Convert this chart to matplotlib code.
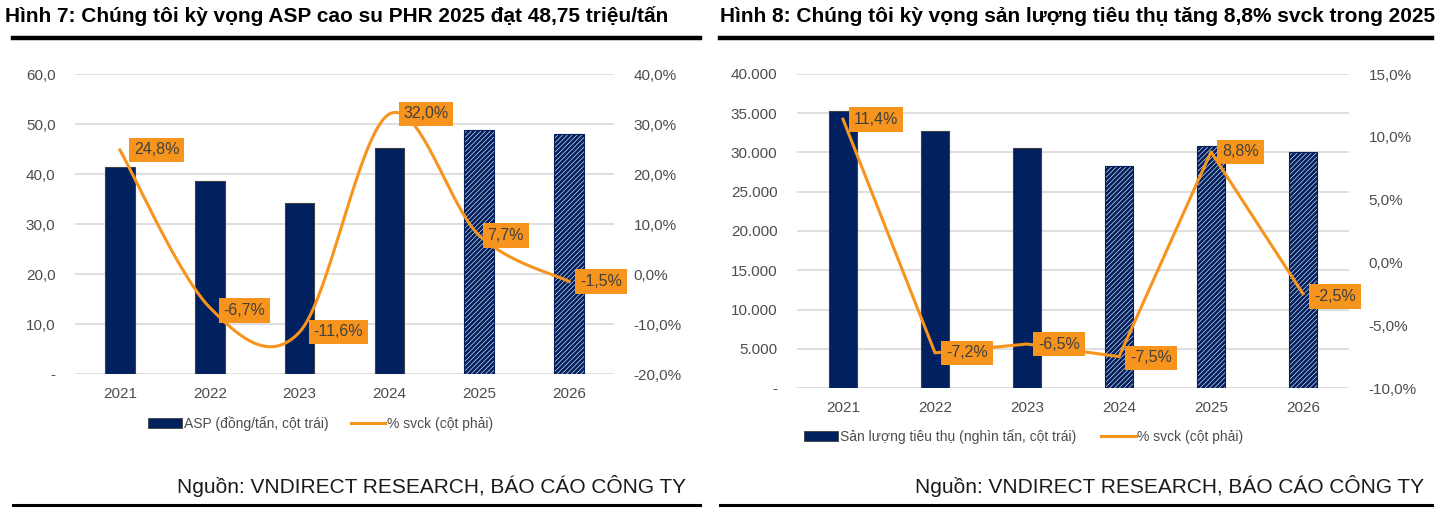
import numpy as np
import matplotlib
matplotlib.use('Agg')
import matplotlib.pyplot as plt
from matplotlib.lines import Line2D
from matplotlib.patches import Patch

plt.rcParams['font.family'] = ['Liberation Sans', 'DejaVu Sans']
plt.rcParams['hatch.linewidth'] = 2.0

# chart 7 data
years = ['2021', '2022', '2023', '2024', '2025', '2026']
asp = [41.4, 38.7, 34.3, 45.2, 48.75, 48.0]
asp_yoy = [24.8, -6.7, -11.6, 32.0, 7.7, -1.5]
asp_forecast = [False, False, False, False, True, True]

# chart 8 data
volume = [35300, 32760, 30630, 28330, 30820, 30050]
vol_yoy = [11.4, -7.2, -6.5, -7.5, 8.8, -2.5]
vol_forecast = [False, False, False, True, True, True]

NAVY = '#002060'
ORANGE = '#F7941D'
GRID = '#D9D9D9'
TICK = '#4d4d4d'

W, H = 1443, 513


def smooth(xs, ys, n=40):
    # excel-like smoothed line (catmull-rom through the points)
    xs = np.asarray(xs, float)
    ys = np.asarray(ys, float)
    px = np.concatenate([[xs[0]], xs, [xs[-1]]])
    py = np.concatenate([[ys[0]], ys, [ys[-1]]])
    ox, oy = [], []
    t = np.linspace(0, 1, n)
    h00 = 2 * t**3 - 3 * t**2 + 1
    h10 = t**3 - 2 * t**2 + t
    h01 = -2 * t**3 + 3 * t**2
    h11 = t**3 - t**2
    for i in range(1, len(px) - 2):
        mx0 = (px[i + 1] - px[i - 1]) / 2
        mx1 = (px[i + 2] - px[i]) / 2
        my0 = (py[i + 1] - py[i - 1]) / 2
        my1 = (py[i + 2] - py[i]) / 2
        ox.extend(h00 * px[i] + h10 * mx0 + h01 * px[i + 1] + h11 * mx1)
        oy.extend(h00 * py[i] + h10 * my0 + h01 * py[i + 1] + h11 * my1)
    return ox, oy


def pct(v):
    return f'{v:.1f}%'.replace('.', ',')


def draw(ax, vals, yoy, fc, ylim, ystep, yfmt, y2lim, y2step, barw, smoothed, label_off):
    x = np.arange(len(years))
    for xi, v, f in zip(x, vals, fc):
        if f:
            ax.bar(xi, v, width=barw, color='white', edgecolor=NAVY, hatch='///////', linewidth=0.8, zorder=2)
        else:
            ax.bar(xi, v, width=barw, color=NAVY, edgecolor='#404040', linewidth=0.8, zorder=2)
    ax.set_xlim(-0.5, len(years) - 0.5)
    ax.set_ylim(*ylim)
    yt = np.arange(ylim[0], ylim[1] + ystep / 2, ystep)
    ax.set_yticks(yt)
    ax.set_yticklabels([yfmt(v) for v in yt])
    ax.set_xticks(x)
    ax.set_xticklabels(years)
    ax.yaxis.grid(True, color=GRID, linewidth=1.2, zorder=0)
    ax.set_axisbelow(True)
    for s in ax.spines.values():
        s.set_visible(False)
    ax.tick_params(length=0, labelsize=11, colors=TICK, pad=14)
    ax.tick_params(axis='x', pad=9)

    ax2 = ax.twinx()
    ax2.set_ylim(*y2lim)
    yt2 = np.arange(y2lim[0], y2lim[1] + y2step / 2, y2step)
    ax2.set_yticks(yt2)
    ax2.set_yticklabels([pct(v) for v in yt2])
    for s in ax2.spines.values():
        s.set_visible(False)
    ax2.tick_params(length=0, labelsize=11, colors=TICK, pad=14)
    if smoothed:
        lx, ly = smooth(x, yoy)
    else:
        lx, ly = x, yoy
    ax2.plot(lx, ly, color=ORANGE, linewidth=2.2, zorder=3)
    for xi, v, off in zip(x, yoy, label_off):
        ax2.annotate(pct(v), (xi, v), xytext=off, textcoords='offset points',
                     ha='left', va='center', fontsize=11.5, color='#404040',
                     bbox=dict(boxstyle='square,pad=0.3', fc=ORANGE, ec='none'), zorder=4)
    return ax2


fig = plt.figure(figsize=(W / 100, H / 100), dpi=100)

# left chart
ax1 = fig.add_axes([75 / W, 1 - 374 / H, 539 / W, 300 / H])
draw(ax1, asp, asp_yoy, asp_forecast, (0, 60), 10,
     lambda v: '-' if v == 0 else f'{v:.1f}'.replace('.', ','),
     (-20, 40), 10, 0.33, True,
     [(10, 0), (10, -2), (10, 0), (10, 0), (6, 0), (8, 0)])
h1 = [Patch(facecolor=NAVY, edgecolor='#404040', linewidth=0.6),
      Line2D([], [], color=ORANGE, linewidth=2.2)]
ax1.legend(h1, ['ASP (đồng/tấn, cột trái)', '% svck (cột phải)'],
           loc='center left', bbox_to_anchor=(0.135, -0.165), ncol=2, frameon=False,
           fontsize=10, handlelength=2.5, handletextpad=0.1, columnspacing=1.6,
           labelcolor=TICK, borderaxespad=0, borderpad=0)

# right chart
ax3 = fig.add_axes([797 / W, 1 - 388 / H, 552 / W, 314 / H])
draw(ax3, volume, vol_yoy, vol_forecast, (0, 40000), 5000,
     lambda v: '-' if v == 0 else f'{int(v):,}'.replace(',', '.'),
     (-10, 15), 5, 0.3, False,
     [(8, 0), (8, 0), (8, 0), (8, -1), (8, 0), (8, -2)])
h2 = [Patch(facecolor=NAVY, edgecolor='#404040', linewidth=0.6),
      Line2D([], [], color=ORANGE, linewidth=2.2)]
ax3.legend(h2, ['Sản lượng tiêu thụ (nghìn tấn, cột trái)', '% svck (cột phải)'],
           loc='center left', bbox_to_anchor=(0.012, -0.155), ncol=2, frameon=False,
           fontsize=10, handlelength=2.5, handletextpad=0.1, columnspacing=1.8,
           labelcolor=TICK, borderaxespad=0, borderpad=0)

# titles, rules and sources
fig.text(5 / W, 1 - 16 / H, 'Hình 7: Chúng tôi kỳ vọng ASP cao su PHR 2025 đạt 48,75 triệu/tấn',
         fontsize=15, fontweight='bold', va='center', ha='left')
fig.text(720 / W, 1 - 16 / H, 'Hình 8: Chúng tôi kỳ vọng sản lượng tiêu thụ tăng 8,8% svck trong 2025',
         fontsize=15, fontweight='bold', va='center', ha='left')
for x0, x1 in [(13, 700), (720, 1432)]:
    fig.add_artist(Line2D([x0 / W, x1 / W], [1 - 38 / H] * 2, color='black', linewidth=3.2))
    fig.add_artist(Line2D([x0 / W, x1 / W], [1 - 505 / H] * 2, color='black', linewidth=2.2))
fig.text(686 / W, 1 - 486 / H, 'Nguồn: VNDIRECT RESEARCH, BÁO CÁO CÔNG TY',
         fontsize=15, ha='right', va='center', color='#1a1a1a')
fig.text(1424 / W, 1 - 486 / H, 'Nguồn: VNDIRECT RESEARCH, BÁO CÁO CÔNG TY',
         fontsize=15, ha='right', va='center', color='#1a1a1a')

fig.savefig('out.png', dpi=100)
